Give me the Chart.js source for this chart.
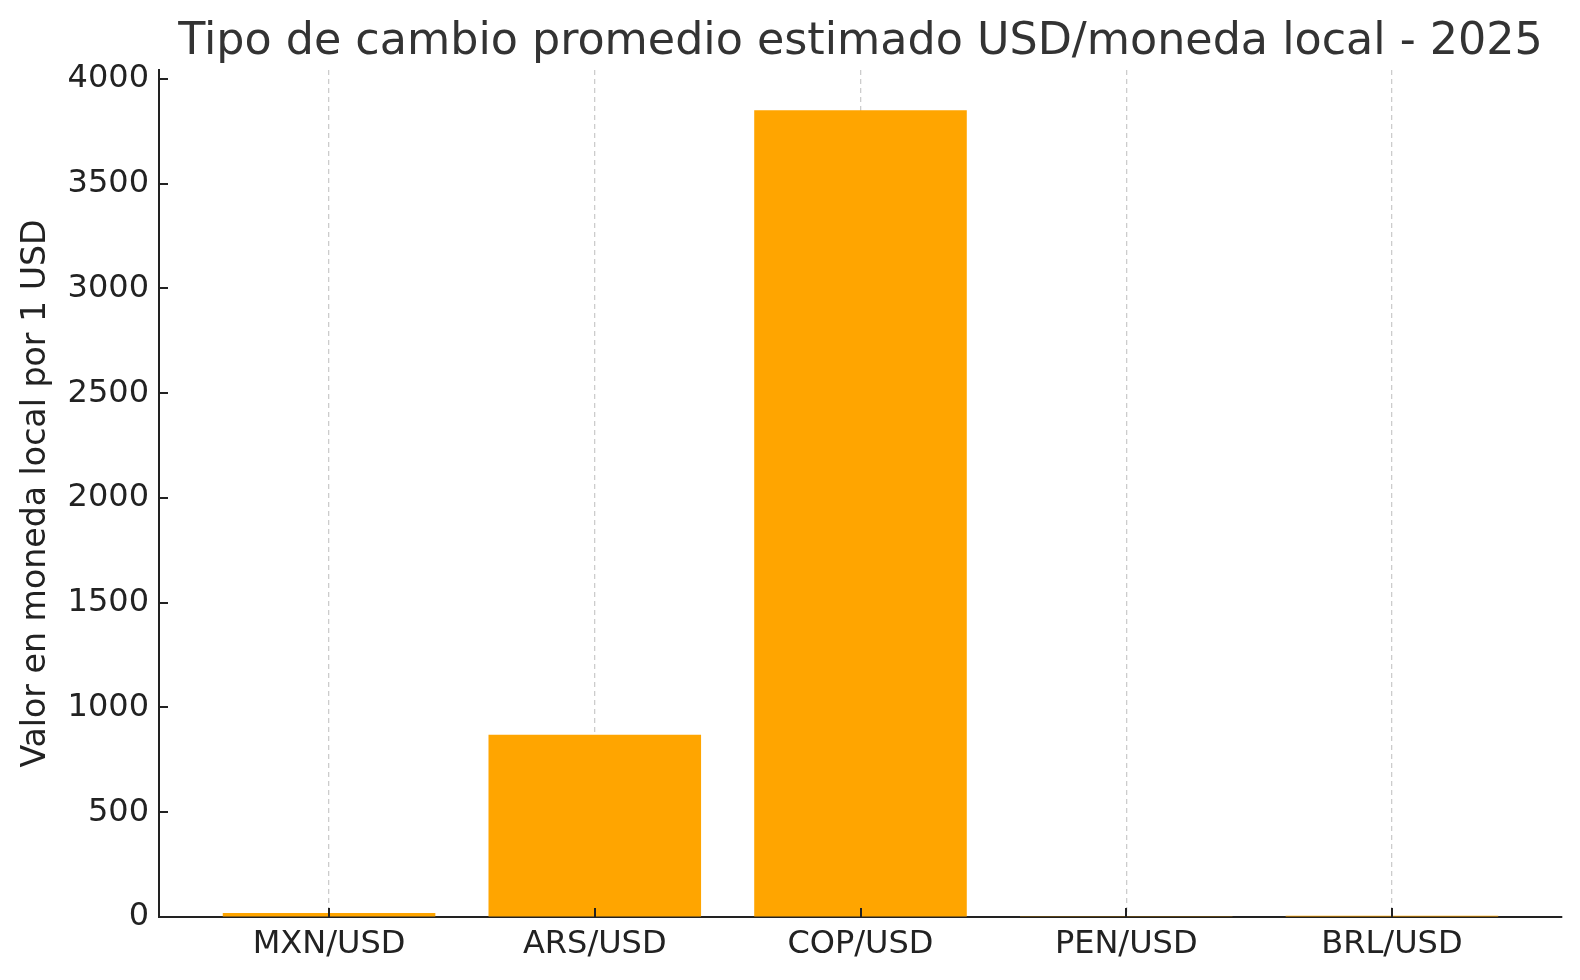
<!DOCTYPE html>
<html>
<head>
<meta charset="utf-8">
<script src="https://cdn.jsdelivr.net/npm/chart.js@4/dist/chart.umd.min.js"></script>
<style>
  html, body { margin: 0; padding: 0; background: #fff; overflow: hidden; }
  #wrap { width: 1580px; height: 980px; }
  canvas { display: block; }
</style>
</head>
<body>
<div id="wrap"><canvas id="myChart" width="1580" height="980"></canvas></div>
<script>
'use strict';
// data
const titleText = 'Tipo de cambio promedio estimado USD/moneda local - 2025';
const yTitle = 'Valor en moneda local por 1 USD';
const pairs = ['MXN/USD', 'ARS/USD', 'COP/USD', 'PEN/USD', 'BRL/USD'];
const rates = [18.5, 870, 3850, 3.7, 5.4];
const yTicks = [0, 500, 1000, 1500, 2000, 2500, 3000, 3500, 4000];

const fontName = '"DejaVu Sans", sans-serif';
const ink = '#222';

// title centred over the plot area, plus inward tick marks like the original
const extras = {
    id: 'extras',
    afterDraw(chart) {
        const ctx = chart.ctx;
        const area = chart.chartArea;
        const xs = chart.scales.x;
        const ys = chart.scales.y;
        ctx.save();
        ctx.strokeStyle = ink;
        ctx.lineWidth = 2;
        ys.ticks.forEach(t => {
            let py = Math.round(ys.getPixelForValue(t.value));
            ctx.beginPath();
            ctx.moveTo(area.left, py);
            ctx.lineTo(area.left + 9, py);
            ctx.stroke();
        });
        xs.ticks.forEach(t => {
            let px = Math.round(xs.getPixelForValue(t.value));
            ctx.beginPath();
            ctx.moveTo(px, area.bottom);
            ctx.lineTo(px, area.bottom - 9);
            ctx.stroke();
        });
        ctx.fillStyle = '#333';
        ctx.font = '44.4px ' + fontName;
        ctx.textAlign = 'center';
        ctx.textBaseline = 'alphabetic';
        ctx.fillText(titleText, (area.left + area.right) / 2, 54);
        ctx.restore();
    }
};

const ctx = document.getElementById('myChart').getContext('2d');
new Chart(ctx, {
    type: 'bar',
    data: {
        datasets: [{
            data: rates.map((v, i) => ({ x: i, y: v })),
            backgroundColor: '#FFA500',
            borderWidth: 0,
            barPercentage: 0.8,
            categoryPercentage: 1.0
        }]
    },
    options: {
        responsive: false,
        animation: false,
        layout: { padding: { top: 70, right: 18, left: 0, bottom: 0 } },
        plugins: {
            legend: { display: false },
            tooltip: { enabled: false },
            title: { display: false }
        },
        scales: {
            x: {
                type: 'linear',
                offset: false,
                min: -0.64,
                max: 4.64,
                afterBuildTicks: axis => { axis.ticks = pairs.map((p, i) => ({ value: i })); },
                afterFit: axis => { axis.height = 63; },
                ticks: {
                    callback: v => pairs[v],
                    font: { family: fontName, size: 32 },
                    color: ink,
                    padding: 8,
                    maxRotation: 0,
                    autoSkip: false
                },
                grid: {
                    offset: false,
                    color: '#cccccc',
                    lineWidth: 1.3,
                    drawTicks: false
                },
                border: { display: true, color: ink, width: 2, dash: [5, 4] }
            },
            y: {
                min: 0,
                max: 4042.5,
                afterBuildTicks: axis => { axis.ticks = yTicks.map(v => ({ value: v })); },
                afterFit: axis => { axis.width = 159; },
                ticks: {
                    callback: v => String(v),
                    font: { family: fontName, size: 32 },
                    color: ink,
                    padding: 10
                },
                grid: { drawOnChartArea: false, drawTicks: false },
                border: { display: true, color: ink, width: 2 },
                title: {
                    display: true,
                    text: yTitle,
                    font: { family: fontName, size: 33.2 },
                    color: ink,
                    padding: { top: 16, bottom: 0 }
                }
            }
        }
    },
    plugins: [extras]
});
</script>
</body>
</html>
